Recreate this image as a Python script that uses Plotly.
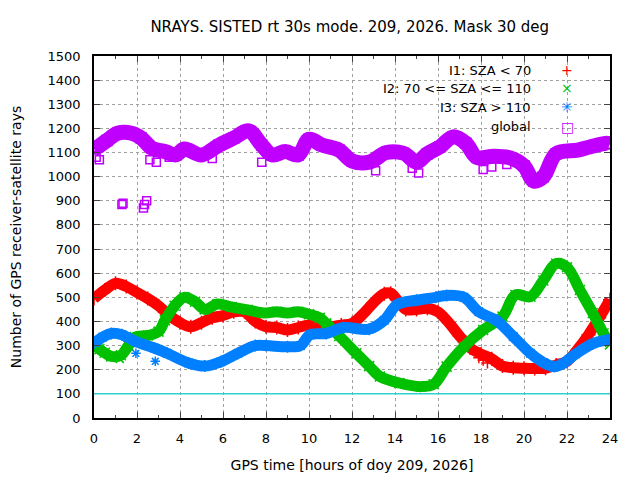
import plotly.graph_objects as go

# I1: SZA < 70 (red)
i1_hours = [0, 0.5, 1.0, 1.5, 2.0, 2.5, 3.0, 3.5, 4.0, 4.5, 5.0, 5.5, 6.0, 6.5, 7.0, 7.5, 8.0, 8.5, 9.0, 9.5,
            10.0, 10.5, 11.0, 11.5, 12.0, 12.5, 13.0, 13.5, 13.8, 14.1, 14.5, 15.0, 15.5, 16.0, 16.5, 17.0, 17.5,
            18.0, 18.5, 19.0, 19.5, 20.0, 20.5, 21.0, 21.5, 22.0, 22.5, 23.0, 23.5, 24.0]
i1_rays = [495, 530, 558, 545, 520, 495, 465, 425, 395, 378, 395, 415, 425, 440, 440, 400, 378, 375, 365, 375,
           385, 380, 378, 385, 392, 430, 478, 515, 517, 490, 450, 450, 455, 440, 395, 340, 290,
           265, 245, 215, 208, 206, 205, 206, 220, 235, 285, 345, 415, 490]

# I2: 70 <= SZA <= 110 (green)
i2_hours = [0, 0.25, 0.5, 0.8, 1.25, 1.6, 1.9, 2.5, 3.0, 3.3, 3.75, 4.2, 4.7, 5.15, 5.75, 6.4, 7.15, 7.9, 8.5,
            9.0, 9.5, 10.0, 10.5, 10.8, 11.4, 12.2, 12.8, 13.3, 14.2, 15.2, 15.8, 16.4, 17.2, 18.1, 19.0, 19.6,
            20.3, 20.9, 21.5, 22.0, 22.6, 23.2, 23.7, 24.0]
i2_rays = [310, 285, 270, 255, 260, 300, 335, 342, 358, 405, 465, 500, 482, 450, 472, 460, 448, 435, 440,
           435, 440, 430, 415, 392, 340, 268, 215, 172, 145, 130, 140, 213, 295, 365, 420, 510,
           503, 570, 640, 625, 530, 435, 350, 305]

# I3: SZA > 110 (blue)
i3_hours = [0, 0.4, 0.8, 1.3, 1.9, 2.8, 3.4, 4.4, 5.15, 5.9, 6.7, 7.5, 8.0, 9.0, 9.6, 10.05, 10.8, 11.6, 12.8,
            13.5, 14.1, 15.0, 15.9, 16.4, 17.2, 17.9, 18.7, 19.5, 20.3, 20.9, 21.4, 21.8, 22.4, 23.2, 23.8, 24.0]
i3_rays = [310, 335, 350, 345, 318, 290, 268, 228, 215, 233, 268, 300, 300, 295, 300, 345, 350, 375, 368,
           405, 470, 488, 500, 508, 500, 440, 405, 338, 268, 230, 213, 225, 265, 308, 322, 325]

# global (purple)
gl_hours = [0, 0.2, 0.6, 1.1, 1.75, 2.2, 2.7, 3.3, 3.8, 4.2, 5.0, 5.8, 6.5, 7.2, 7.8, 8.3, 8.9, 9.5, 10.0, 10.6,
            11.4, 12.0, 12.8, 13.6, 14.4, 15.0, 15.5, 16.1, 16.7, 17.3, 17.8, 18.6, 19.35, 20.0, 20.45, 20.9,
            21.5, 22.5, 23.1, 23.85, 24.0]
gl_rays = [1115, 1125, 1150, 1180, 1180, 1160, 1118, 1104, 1090, 1115, 1090, 1130, 1160, 1190, 1131, 1090, 1104,
           1090, 1155, 1131, 1110, 1065, 1060, 1100, 1097, 1060, 1095, 1124, 1165, 1138, 1080, 1085, 1078, 1045,
           982, 1000, 1095, 1110, 1124, 1138, 1135]

# scattered single epochs away from the bands
gl_out_hours = [0.1, 0.25, 1.3, 1.35, 2.3, 2.35, 2.45, 2.6, 2.9, 3.5, 5.5, 7.8, 13.1, 14.8, 15.1, 18.1, 18.5, 19.2]
gl_out_rays = [1080, 1070, 885, 890, 870, 885, 900, 1070, 1060, 1080, 1075, 1060, 1025, 1035, 1015, 1030, 1040, 1050]
i1_out_hours = [17.9, 18.1, 18.3]
i1_out_rays = [250, 240, 228]
i2_out_hours = [1.2]
i2_out_rays = [245]
i3_out_hours = [1.95, 2.85]
i3_out_rays = [268, 235]

mask_level = 100

series = [
    ("I1: SZA < 70", i1_hours, i1_rays, i1_out_hours, i1_out_rays, "#ff0000", "cross-thin-open", "+"),
    ("I2: 70 <= SZA <= 110", i2_hours, i2_rays, i2_out_hours, i2_out_rays, "#00c000", "x-thin-open", "\u00d7"),
    ("I3: SZA > 110", i3_hours, i3_rays, i3_out_hours, i3_out_rays, "#0080ff", "asterisk-open", "\u2733"),
    ("global", gl_hours, gl_rays, gl_out_hours, gl_out_rays, "#c000ff", "square-open", "\u25a1"),
]

fig = go.Figure()

fig.add_hline(y=mask_level, line=dict(color="#30d0d0", width=1.5))

for name, hx, hy, ox, oy, col, sym, _ in series:
    width = 15 if name == "global" else 11
    fig.add_trace(go.Scatter(x=hx, y=hy, mode="lines+markers", name=name, showlegend=False,
                             line=dict(color=col, width=width, shape="spline"),
                             marker=dict(symbol=sym, size=10, color=col, line=dict(width=1.5, color=col))))
    fig.add_trace(go.Scatter(x=ox, y=oy, mode="markers", showlegend=False,
                             marker=dict(symbol=sym, size=8, color=col, line=dict(width=1.5, color=col))))

# gnuplot-style key: text right-aligned, symbol on the right
key_y = [0.961, 0.911, 0.858, 0.805]
for k, (name, _, _, _, _, col, _, glyph) in enumerate(series):
    fig.add_annotation(x=0.851, y=key_y[k], xref="paper", yref="paper", text=name, showarrow=False,
                       xanchor="right", yanchor="middle", font=dict(size=13, color="#000000"))
    fig.add_annotation(x=0.917, y=key_y[k], xref="paper", yref="paper", text=glyph, showarrow=False,
                       xanchor="center", yanchor="middle", font=dict(size=14, color=col))

fig.update_layout(
    width=640, height=480,
    margin=dict(l=86, r=38, t=48, b=70),
    paper_bgcolor="white", plot_bgcolor="white",
    font=dict(family="DejaVu Sans, Liberation Sans, sans-serif", size=13, color="#000000"),
    title=dict(text="NRAYS. SISTED rt 30s mode. 209, 2026. Mask 30 deg", x=0.534, xanchor="center",
               y=0.96, yanchor="middle", font=dict(size=15)),
)

fig.update_xaxes(range=[0, 24], dtick=2, tick0=0, ticks="inside", ticklen=6, mirror="ticks",
                 showline=True, linecolor="black", linewidth=1.5, automargin=False, ticklabelstandoff=8,
                 showgrid=True, gridcolor="#a0a0a0", griddash="dot", gridwidth=1, zeroline=False,
                 minor=dict(dtick=1, ticks="inside", ticklen=3, showgrid=False),
                 title=dict(text="GPS time [hours of doy 209, 2026]", standoff=15, font=dict(size=14)))
fig.update_yaxes(range=[0, 1500], dtick=100, tick0=0, ticks="inside", ticklen=6, mirror="ticks",
                 showline=True, linecolor="black", linewidth=1.5, automargin=False, ticklabelstandoff=9,
                 showgrid=True, gridcolor="#a0a0a0", griddash="dot", gridwidth=1, zeroline=False,
                 title=dict(text="Number of GPS receiver-satellite rays", standoff=31, font=dict(size=14)))

fig.write_html("out.html")
